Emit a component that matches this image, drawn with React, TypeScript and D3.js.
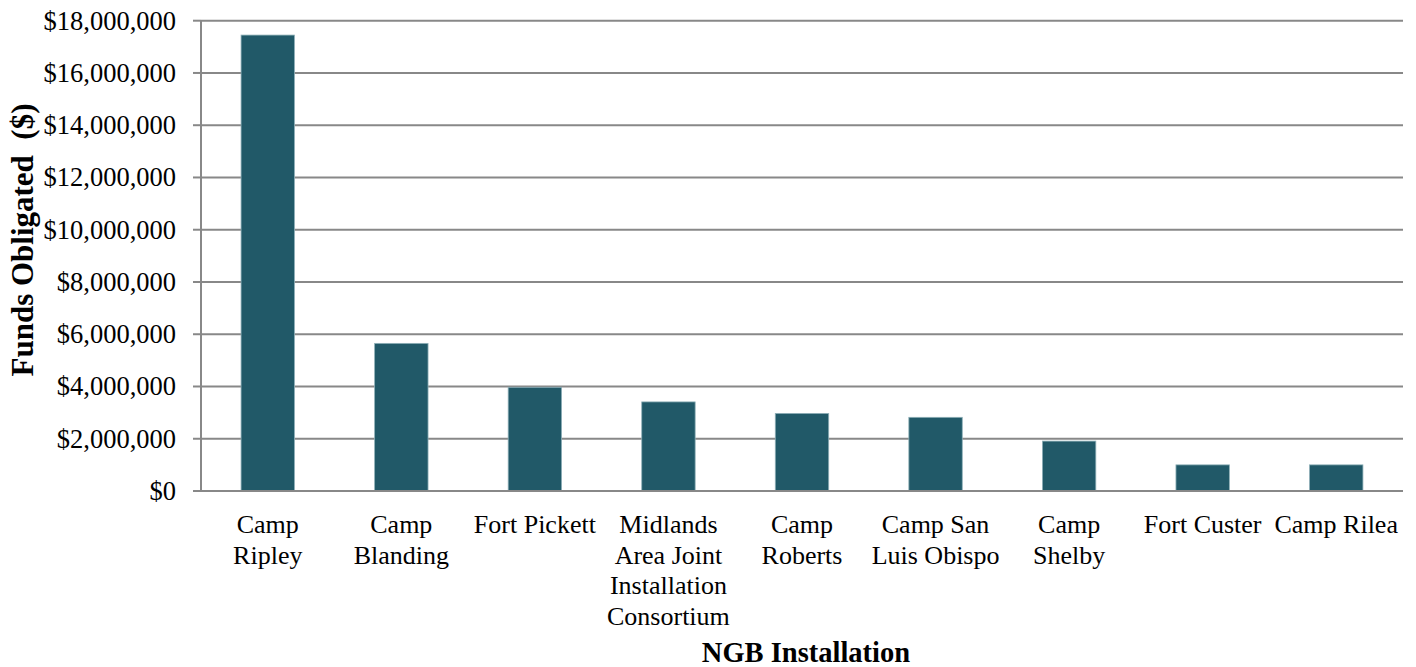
import React from "react";
import * as d3 from "d3";

// Funds obligated per NGB installation (USD)
const installations: string[] = [
  "Camp Ripley",
  "Camp Blanding",
  "Fort Pickett",
  "Midlands Area Joint Installation Consortium",
  "Camp Roberts",
  "Camp San Luis Obispo",
  "Camp Shelby",
  "Fort Custer",
  "Camp Rilea",
];
const fundsObligated: number[] = [
  17450000, 5650000, 3970000, 3410000, 2970000, 2820000, 1910000, 1000000, 1000000,
];
const yTicks: number[] = [0, 2e6, 4e6, 6e6, 8e6, 10e6, 12e6, 14e6, 16e6, 18e6];

const W = 1416;
const H = 667;
const margin = { left: 201, right: 13, top: 20.7, bottom: 176 };
const SERIF = "'Liberation Serif', 'Times New Roman', serif";
const catFontSize = 26;

// Greedy word wrap against the band width
function wrapLabel(label: string, maxWidth: number): string[] {
  const canvas = document.createElement("canvas");
  const ctx = canvas.getContext("2d");
  const measure = (s: string) => {
    if (!ctx) return s.length * catFontSize * 0.48;
    ctx.font = `${catFontSize}px ${SERIF}`;
    return ctx.measureText(s).width;
  };
  const words = label.split(" ");
  const lines: string[] = [];
  let cur = "";
  for (const w of words) {
    const test = cur ? cur + " " + w : w;
    if (cur && measure(test) > maxWidth) {
      lines.push(cur);
      cur = w;
    } else {
      cur = test;
    }
  }
  if (cur) lines.push(cur);
  return lines;
}

export default function App() {
  const x0 = margin.left;
  const x1 = W - margin.right;
  const yBottom = H - margin.bottom;
  const yTop = margin.top;

  const x = d3
    .scaleBand<string>()
    .domain(installations)
    .range([x0, x1])
    .paddingInner(0.6)
    .paddingOuter(0.3);
  const y = d3.scaleLinear().domain([0, 18e6]).range([yBottom, yTop]);
  const fmt = d3.format("$,");
  const gridColor = "#888888";

  return (
    <svg
      width={W}
      height={H}
      style={{ position: "absolute", left: 0, top: 0, background: "#fff" }}
      fontFamily={SERIF}
    >
      {/* horizontal gridlines and tick marks */}
      {yTicks.map((t) => (
        <g key={t}>
          <line x1={x0} x2={x1} y1={y(t)} y2={y(t)} stroke={gridColor} strokeWidth={2} />
          <line x1={x0 - 8} x2={x0} y1={y(t)} y2={y(t)} stroke={gridColor} strokeWidth={2} />
          <text
            x={x0 - 25}
            y={y(t)}
            textAnchor="end"
            dominantBaseline="central"
            fontSize={26.5}
            fill="#000"
          >
            {fmt(t)}
          </text>
        </g>
      ))}

      {/* bars */}
      {installations.map((c, i) => (
        <rect
          key={c}
          x={x(c)}
          y={y(fundsObligated[i])}
          width={x.bandwidth()}
          height={y(0) - y(fundsObligated[i])}
          fill="#215968"
          stroke="#8fb0b8"
          strokeWidth={0.8}
        />
      ))}

      {/* axes */}
      <line x1={x0} x2={x0} y1={yTop} y2={yBottom} stroke={gridColor} strokeWidth={2} />
      <line x1={x0} x2={x1} y1={yBottom} y2={yBottom} stroke={gridColor} strokeWidth={2} />

      {/* category labels */}
      {installations.map((c) => {
        const lines = wrapLabel(c, x.step());
        const cx = (x(c) as number) + x.bandwidth() / 2;
        return (
          <text key={c} textAnchor="middle" fontSize={catFontSize} fill="#000">
            {lines.map((ln, j) => (
              <tspan key={j} x={cx} y={533 + j * 30.7}>
                {ln}
              </tspan>
            ))}
          </text>
        );
      })}

      {/* axis titles */}
      <text
        x={806}
        y={662}
        textAnchor="middle"
        fontSize={28.5}
        fontWeight="bold"
        fill="#000"
      >
        NGB Installation
      </text>
      <text
        transform={`translate(33,240) rotate(-90)`}
        textAnchor="middle"
        fontSize={31}
        fontWeight="bold"
        fill="#000"
        style={{ whiteSpace: "pre" }}
      >
        {"Funds Obligated  ($)"}
      </text>
    </svg>
  );
}
